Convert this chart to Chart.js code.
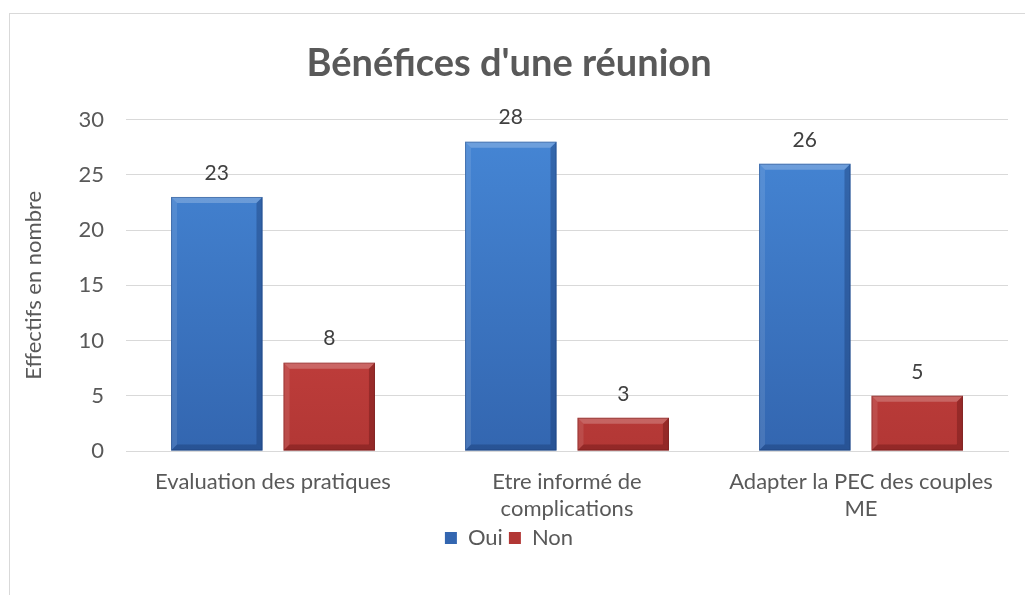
<!DOCTYPE html>
<html>
<head>
<meta charset="utf-8">
<script src="https://cdn.jsdelivr.net/npm/chart.js@4/dist/chart.umd.min.js"></script>
<style>
  html, body { margin: 0; padding: 0; background: #fff; }
  #wrap { position: relative; width: 1025px; height: 595px; overflow: hidden; }
  #frame { position: absolute; left: 9px; top: 13px; width: 1030px; height: 600px; border: 1px solid #d9d9d9; box-sizing: border-box; }
  canvas { position: absolute; left: 0; top: 0; }
</style>
</head>
<body>
<div id="wrap">
  <div id="frame"></div>
  <canvas id="chart" width="1025" height="595"></canvas>
</div>
<script>
// données
const categories = [
    'Evaluation des pratiques',
    ['Etre informé de', 'complications'],
    ['Adapter la PEC des couples', 'ME']
];
const seriesNames = ['Oui', 'Non'];
const ouiValues = [23, 28, 26];
const nonValues = [8, 3, 5];
const yTicks = [0, 5, 10, 15, 20, 25, 30];

const FONT = "Lato, 'Open Sans', sans-serif";
const TEXT = '#595959';

const PALETTE = {
    Oui: { top: '#4687d6', bottom: '#3366b0', light: 'rgba(255,255,255,0.22)', dark: 'rgba(20,50,100,0.35)' },
    Non: { top: '#db4b48', bottom: '#b23735', light: 'rgba(255,255,255,0.22)', dark: 'rgba(90,15,15,0.35)' }
};

function barGradient(ctx, name) {
    const area = ctx.chart.chartArea;
    if (!area) return PALETTE[name].top;
    const g = ctx.chart.ctx.createLinearGradient(0, area.top, 0, area.bottom);
    g.addColorStop(0, PALETTE[name].top);
    g.addColorStop(1, PALETTE[name].bottom);
    return g;
}

// biseau + étiquettes de valeur
const bevelPlugin = {
    id: 'bevel',
    afterDatasetsDraw(chart) {
        const c = chart.ctx;
        chart.data.datasets.forEach((ds, di) => {
            const pal = PALETTE[ds.label];
            chart.getDatasetMeta(di).data.forEach((bar, i) => {
                const w = bar.width, l = bar.x - w / 2, r = bar.x + w / 2;
                const t = bar.y, b = bar.base, s = 6;
                c.save();
                // haut
                c.fillStyle = pal.light;
                c.beginPath();
                c.moveTo(l, t); c.lineTo(r, t); c.lineTo(r - s, t + s); c.lineTo(l + s, t + s);
                c.closePath(); c.fill();
                // gauche
                c.fillStyle = 'rgba(255,255,255,0.10)';
                c.beginPath();
                c.moveTo(l, t); c.lineTo(l + s, t + s); c.lineTo(l + s, b - s); c.lineTo(l, b);
                c.closePath(); c.fill();
                // droite + bas
                c.fillStyle = pal.dark;
                c.beginPath();
                c.moveTo(r, t); c.lineTo(r, b); c.lineTo(r - s, b - s); c.lineTo(r - s, t + s);
                c.closePath(); c.fill();
                c.beginPath();
                c.moveTo(l, b); c.lineTo(r, b); c.lineTo(r - s, b - s); c.lineTo(l + s, b - s);
                c.closePath(); c.fill();
                c.strokeStyle = pal.dark;
                c.lineWidth = 1;
                c.strokeRect(l + 0.5, t + 0.5, w - 1, b - t - 1);
                // valeur
                c.fillStyle = '#404040';
                c.font = '21px ' + FONT;
                c.textAlign = 'center';
                c.textBaseline = 'middle';
                c.fillText(String(ds.data[i]), bar.x, t - 24);
                c.restore();
            });
        });
    }
};

new Chart(document.getElementById('chart'), {
    type: 'bar',
    data: {
        labels: categories,
        datasets: [
            {
                label: seriesNames[0],
                data: ouiValues,
                backgroundColor: ctx => barGradient(ctx, 'Oui'),
                categoryPercentage: 0.765,
                barPercentage: 0.813
            },
            {
                label: seriesNames[1],
                data: nonValues,
                backgroundColor: ctx => barGradient(ctx, 'Non'),
                categoryPercentage: 0.765,
                barPercentage: 0.813
            }
        ]
    },
    options: {
        responsive: false,
        animation: false,
        layout: { padding: { left: 10, right: 17, top: 13, bottom: 36 } },
        plugins: {
            title: {
                display: true,
                text: "Bénéfices d'une réunion",
                color: TEXT,
                font: { family: FONT, size: 38, weight: 'bold' },
                padding: { top: 28, bottom: 33 }
            },
            legend: {
                position: 'bottom',
                labels: {
                    color: TEXT,
                    font: { family: FONT, size: 22 },
                    boxWidth: 12,
                    boxHeight: 12,
                    padding: 6,
                    generateLabels(chart) {
                        return chart.data.datasets.map((ds, i) => ({
                            text: ds.label,
                            fillStyle: PALETTE[ds.label].bottom,
                            strokeStyle: PALETTE[ds.label].bottom,
                            lineWidth: 0,
                            fontColor: TEXT,
                            datasetIndex: i
                        }));
                    }
                }
            },
            tooltip: { enabled: false }
        },
        scales: {
            x: {
                grid: { display: false, drawTicks: false },
                border: { color: '#d9d9d9' },
                ticks: { color: TEXT, font: { family: FONT, size: 22, lineHeight: 1.2 }, padding: 18, maxRotation: 0 },
                afterFit(scale) { scale.height = 70; }
            },
            y: {
                min: 0,
                max: 30,
                afterBuildTicks(scale) { scale.ticks = yTicks.map(v => ({ value: v })); },
                grid: { color: '#d9d9d9', drawTicks: false },
                border: { display: false },
                ticks: { color: TEXT, font: { family: FONT, size: 22 }, padding: 22 },
                title: {
                    display: true,
                    text: 'Effectifs en nombre',
                    color: TEXT,
                    font: { family: FONT, size: 22 },
                    padding: { top: 11, bottom: 0 }
                },
                afterFit(scale) { scale.width = 116; }
            }
        }
    },
    plugins: [bevelPlugin]
});
</script>
</body>
</html>
